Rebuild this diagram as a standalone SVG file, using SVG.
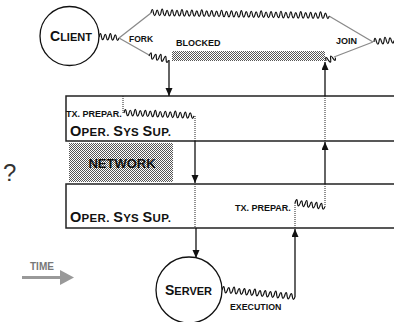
<svg xmlns="http://www.w3.org/2000/svg" xmlns:xlink="http://www.w3.org/1999/xlink" width="394" height="322" viewBox="0 0 394 322">
<style>
text{font-family:"Liberation Sans",Arial,sans-serif;font-weight:bold;fill:#111}
.wv{fill:none;stroke:#111;stroke-width:1.2;stroke-linejoin:round}
.gl{stroke:#8a8a8a;stroke-width:1.3;fill:none}
.ar{stroke:#111;stroke-width:1.3;fill:none;marker-end:url(#ah)}
.dt{stroke:#222;stroke-width:1;stroke-dasharray:1 1;fill:none}
.bx{stroke:#222;stroke-width:1.5;fill:none}
.nd{fill:#fff;stroke:#111;stroke-width:1.3}
</style>
<defs>
<marker id="ah" markerUnits="userSpaceOnUse" markerWidth="8" markerHeight="8" refX="8" refY="3.5" orient="auto"><path d="M0 0L8 3.5L0 7z" fill="#111"/></marker>
<pattern id="dots" width="2" height="2" patternUnits="userSpaceOnUse"><rect width="2" height="2" fill="#fff"/><rect width="1" height="1" fill="#555"/><rect x="1" y="1" width="1" height="1" fill="#555"/></pattern>
<path id="w20" class="wv" d="M0 0q1.25 -7 2.5 0q1.25 5 2.5 0q1.25 -6 2.5 0q1.25 5 2.5 0q1.25 -8 2.5 0q1.25 5 2.5 0q1.25 -6 2.5 0q1.25 5 2.5 0"/>
<path id="w10" class="wv" d="M0 0q1.25 -7 2.5 0q1.25 5 2.5 0q1.25 -6 2.5 0q1.25 5 2.5 0"/>
</defs>
<rect width="394" height="322" fill="#fff"/>

<g id="blocked-area">
<rect x="172" y="51" width="153" height="10" fill="url(#dots)"/>
<text x="176" y="46" font-size="9">BLOCKED</text>
</g>

<g id="network">
<rect x="69" y="143" width="104" height="39" fill="url(#dots)"/>
<text x="122" y="168" font-size="13" text-anchor="middle">NETWORK</text>
</g>

<g id="client-os">
<path class="bx" d="M394 96H66V141H394"/>
<text x="66" y="117" font-size="9">TX. PREPAR.</text>
<text x="70" y="136" letter-spacing="0.3"><tspan font-size="14.5">O</tspan><tspan font-size="11.5">PER. </tspan><tspan font-size="14.5">S</tspan><tspan font-size="11.5">YS </tspan><tspan font-size="14.5">S</tspan><tspan font-size="11.5">UP.</tspan></text>
</g>

<g id="server-os">
<path class="bx" d="M394 184H66V228H394"/>
<text x="235" y="211" font-size="9">TX. PREPAR.</text>
<text x="70" y="222" letter-spacing="0.3"><tspan font-size="14.5">O</tspan><tspan font-size="11.5">PER. </tspan><tspan font-size="14.5">S</tspan><tspan font-size="11.5">YS </tspan><tspan font-size="14.5">S</tspan><tspan font-size="11.5">UP.</tspan></text>
</g>

<g id="connectors">
<use xlink:href="#w20" transform="translate(99,37) rotate(3)"/>
<path class="gl" d="M119 38L151 13M119 38L149 55M329 16L373 42M334 57L373 42"/>
<g transform="translate(151,13) rotate(1) scale(0.99,1)">
<use xlink:href="#w20" x="0"/><use xlink:href="#w20" x="20"/><use xlink:href="#w20" x="40"/><use xlink:href="#w20" x="60"/><use xlink:href="#w20" x="80"/><use xlink:href="#w20" x="100"/><use xlink:href="#w20" x="120"/><use xlink:href="#w20" x="140"/><use xlink:href="#w20" x="160"/>
</g>
<use xlink:href="#w20" transform="translate(374,42) rotate(-4)"/>
<use xlink:href="#w20" transform="translate(149,56) rotate(12)"/>
<use xlink:href="#w10" transform="translate(326,61) rotate(-20)"/>
<path class="ar" d="M169 60V96"/>
<path class="ar" d="M325 96V62"/>
<path class="dt" d="M123 96V113M195 116V141M195 184V228M325 96V141M325 184V207M295 203V228"/>
<g transform="translate(124,113) rotate(2.4)">
<use xlink:href="#w20" x="0"/><use xlink:href="#w20" x="20"/><use xlink:href="#w20" x="40"/><use xlink:href="#w10" x="60"/>
</g>
<path class="ar" d="M195 141V183"/>
<path class="ar" d="M325 184V142"/>
<g transform="translate(295,203) rotate(7.5)">
<use xlink:href="#w20" x="0"/><use xlink:href="#w10" x="20"/>
</g>
<path class="ar" d="M196 228V258"/>
<g transform="translate(222,290) rotate(5.5) scale(1.047,1)">
<use xlink:href="#w20" x="0"/><use xlink:href="#w20" x="20"/><use xlink:href="#w20" x="40"/><use xlink:href="#w10" x="60"/>
</g>
<path class="ar" d="M295 297V229"/>
</g>

<g id="labels">
<text x="129" y="42" font-size="8.5">FORK</text>
<text x="336" y="44" font-size="9">JOIN</text>
<text x="230" y="310" font-size="8.8">EXECUTION</text>
<text x="3" y="181" font-size="24" style="font-weight:normal;fill:#333">?</text>
</g>

<g id="client">
<circle class="nd" cx="69.5" cy="36" r="29.5"/>
<text x="50" y="41"><tspan font-size="14">C</tspan><tspan font-size="11">LIENT</tspan></text>
</g>

<g id="server">
<circle class="nd" cx="189" cy="290" r="33"/>
<text x="165" y="295"><tspan font-size="14">S</tspan><tspan font-size="11">ERVER</tspan></text>
</g>

<g id="time">
<text x="30" y="270" font-size="10" style="fill:#777">TIME</text>
<rect x="22" y="276" width="39" height="3" fill="#999"/>
<path d="M60 270L74 277.5L60 285z" fill="#999"/>
</g>
</svg>
